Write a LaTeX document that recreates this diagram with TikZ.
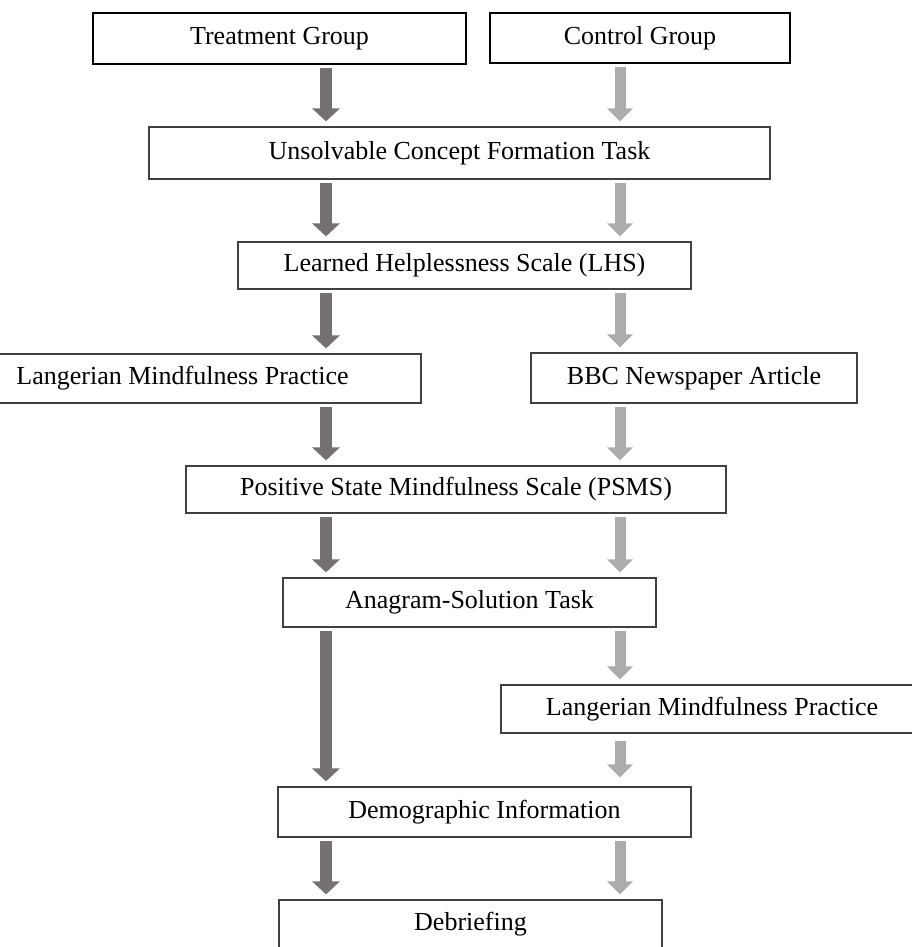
\documentclass[tikz,border=0pt]{standalone}
\usepackage{fontspec}
\setmainfont{Liberation Serif}
\usetikzlibrary{arrows.meta}
\definecolor{tgray}{HTML}{767171}
\definecolor{cgray}{HTML}{AEABAB}
\begin{document}
\begin{tikzpicture}[x=1pt,y=-1pt,
    tarr/.style={draw=tgray,line width=12pt,-{Triangle[width=27pt,length=13pt]},shorten <=3pt,shorten >=5pt},
    carr/.style={draw=cgray,line width=11pt,-{Triangle[width=25pt,length=13pt]},shorten <=3pt,shorten >=5pt}]

        \useasboundingbox (0,0) rectangle (912,947);
        \clip (0,0) rectangle (912,947);
        \coordinate (tx) at (326,0);
        \coordinate (cx) at (620,0);

        \begin{scope}[every node/.style={draw=black!75,line width=1.2pt,inner sep=0pt,font=\fontsize{26}{30}\selectfont}]
          \node[draw=black,line width=2pt,minimum width=373pt,minimum height=51pt] (tg) at (279.5,38.5) {Treatment Group};
          \node[draw=black,line width=2pt,minimum width=300pt,minimum height=50pt] (cg) at (640,38) {Control Group};
          \node[minimum width=621pt,minimum height=52pt] (ucf) at (459.5,153) {Unsolvable Concept Formation Task};
          \node[minimum width=453pt,minimum height=47pt] (lhs) at (464.5,265.5) {Learned Helplessness Scale (LHS)};
          \node[minimum width=477pt,minimum height=49pt] (lmp) at (182.5,378.5) {Langerian Mindfulness Practice};
          \node[minimum width=326pt,minimum height=50pt] (bbc) at (694,378) {BBC Newspaper Article};
          \node[minimum width=540pt,minimum height=47pt] (psms) at (456,489.5) {Positive State Mindfulness Scale (PSMS)};
          \node[minimum width=373pt,minimum height=49pt] (ast) at (469.5,602.5) {Anagram-Solution Task};
          \node[minimum width=422pt,minimum height=48pt] (lmpc) at (712,709) {Langerian Mindfulness Practice};
          \node[minimum width=413pt,minimum height=50pt] (dem) at (484.5,812) {Demographic Information};
          \node[minimum width=383pt,minimum height=48pt] (deb) at (470.5,924) {Debriefing};
        \end{scope}

        % treatment side
        \draw[tarr] (tg.south -| tx) -- (ucf.north -| tx);
        \draw[tarr] (ucf.south -| tx) -- (lhs.north -| tx);
        \draw[tarr] (lhs.south -| tx) -- (lmp.north -| tx);
        \draw[tarr] (lmp.south -| tx) -- (psms.north -| tx);
        \draw[tarr] (psms.south -| tx) -- (ast.north -| tx);
        \draw[tarr] (ast.south -| tx) -- (dem.north -| tx);
        \draw[tarr] (dem.south -| tx) -- (deb.north -| tx);

        % control side
        \draw[carr] (cg.south -| cx) -- (ucf.north -| cx);
        \draw[carr] (ucf.south -| cx) -- (lhs.north -| cx);
        \draw[carr] (lhs.south -| cx) -- (bbc.north -| cx);
        \draw[carr] (bbc.south -| cx) -- (psms.north -| cx);
        \draw[carr] (psms.south -| cx) -- (ast.north -| cx);
        \draw[carr] (ast.south -| cx) -- (lmpc.north -| cx);
        \draw[carr,shorten <=7pt,shorten >=9pt] (lmpc.south -| cx) -- (dem.north -| cx);
        \draw[carr] (dem.south -| cx) -- (deb.north -| cx);

      \end{tikzpicture}
\end{document}
